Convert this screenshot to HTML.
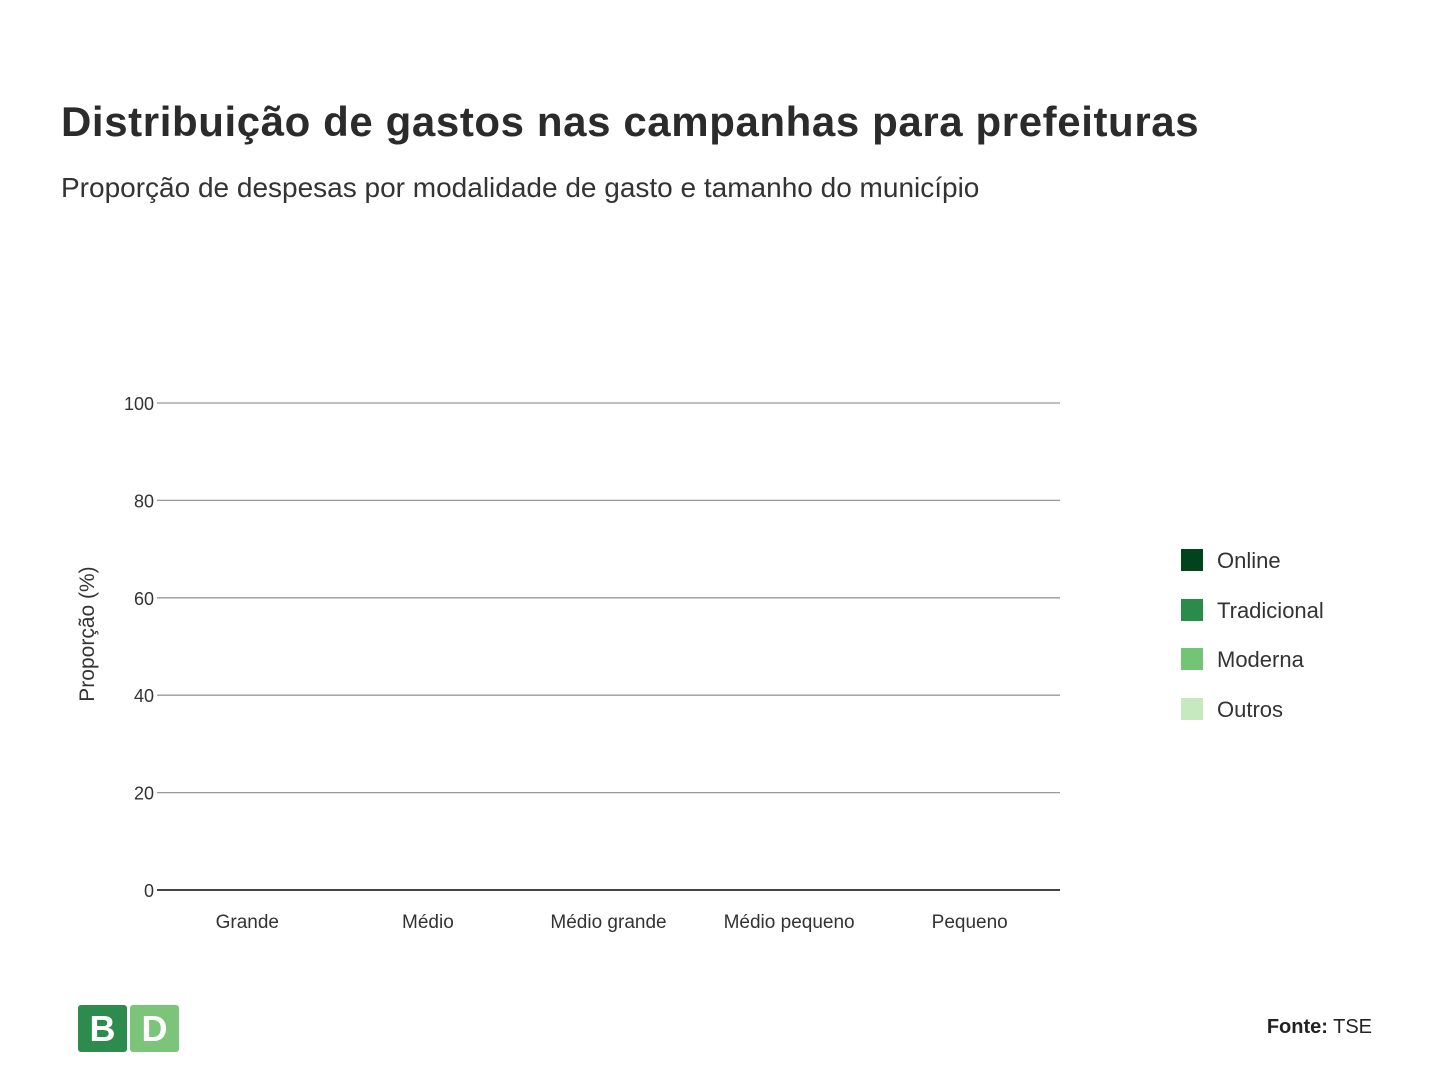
<!DOCTYPE html>
<html><head><meta charset="utf-8">
<style>
body{margin:0;width:1444px;height:1080px;background:#fff;font-family:"Liberation Sans","DejaVu Sans",sans-serif;color:#222;position:relative;overflow:hidden}
.t{position:absolute;left:61px;top:98px;font-size:42px;font-weight:bold;color:#2b2b2b;letter-spacing:0.6px}
.s{position:absolute;left:61px;top:172px;font-size:28px;color:#333}
.lg{position:absolute;left:1181px;font-size:22px;color:#333}
.lg i{position:absolute;left:0;top:0;width:22px;height:22px}
.lg span{position:absolute;left:36px;top:-1px;white-space:nowrap}
.logo{position:absolute;top:1005px;width:49px;height:47px;border-radius:3px;color:#fff;font-size:36px;font-weight:bold;text-align:center;line-height:48px}
.src{position:absolute;right:72px;top:1016px;font-size:20px;color:#222}
</style></head><body>
<div class="t">Distribuição de gastos nas campanhas para prefeituras</div>
<div class="s">Proporção de despesas por modalidade de gasto e tamanho do município</div>
<svg id="chart" width="1444" height="1080" style="position:absolute;left:0;top:0">
<text x="94" y="634" transform="rotate(-90 94 634)" text-anchor="middle" font-size="21" fill="#333" font-family="Liberation Sans, sans-serif">Proporção (%)</text>
</svg>
<div class="lg" style="top:549px"><i style="background:#00441b"></i><span>Online</span></div>
<div class="lg" style="top:599px"><i style="background:#2a8b4b"></i><span>Tradicional</span></div>
<div class="lg" style="top:648px"><i style="background:#74c476"></i><span>Moderna</span></div>
<div class="lg" style="top:698px"><i style="background:#c7e9c0"></i><span>Outros</span></div>
<div class="logo" style="left:78px;background:#2e8b4e">B</div>
<div class="logo" style="left:130px;background:#7cc47a">D</div>
<div class="src"><b>Fonte:</b> TSE</div>
<script>
const categories=["Grande","Médio","Médio grande","Médio pequeno","Pequeno"];
const online=[0,0,0,0,0];
const tradicional=[0,0,0,0,0];
const moderna=[0,0,0,0,0];
const outros=[0,0,0,0,0];
const yTicks=[0,20,40,60,80,100];
const svg=document.getElementById('chart');
const NS='http://www.w3.org/2000/svg';
const X0=157,X1=1060,Y0=890,Y1=403;
const band=(X1-X0)/categories.length;
const y=v=>Y0-(v/100)*(Y0-Y1);
const xc=i=>X0+band*(i+0.5);
function mk(t,a){const e=document.createElementNS(NS,t);for(const k in a)e.setAttribute(k,a[k]);svg.appendChild(e);return e;}
yTicks.forEach(v=>{
  const l=mk('line',{x1:X0,x2:X1,y1:y(v),y2:y(v),stroke:v===0?'#444':'#999','stroke-width':v===0?2:1.3});
  
  
  const tk=mk('text',{x:X0-3,y:y(v)+7,'text-anchor':'end','font-size':18,fill:'#333','font-family':'Liberation Sans, sans-serif'});
  tk.textContent=v;
  
  
});
const series=[[online,'#00441b','online'],[tradicional,'#2a8b4b','tradicional'],[moderna,'#74c476','moderna'],[outros,'#c7e9c0','outros']];
categories.forEach((c,i)=>{
  let acc=0;
  series.forEach(([arr,col,nm])=>{
    const v=arr[i];
    const r=mk('rect',{x:xc(i)-band*0.4,width:band*0.8,y:y(acc+v),height:y(acc)-y(acc+v),fill:col});
    
    
    acc+=v;
  });
  const t=mk('text',{x:xc(i),y:928,'text-anchor':'middle','font-size':19,fill:'#333','font-family':'Liberation Sans, sans-serif'});
  t.textContent=c;
  
  
});
</script>
</body></html>
